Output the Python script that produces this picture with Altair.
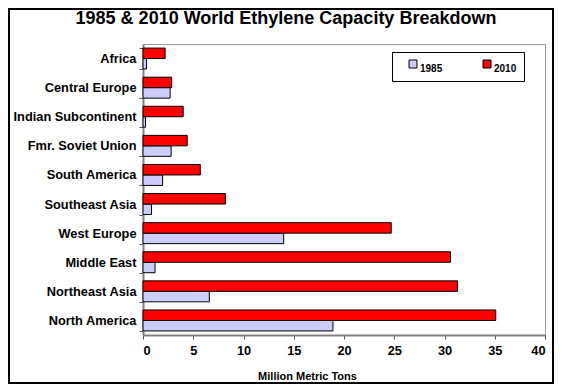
import altair as alt
import pandas as pd

regions = ["Africa", "Central Europe", "Indian Subcontinent", "Fmr. Soviet Union",
           "South America", "Southeast Asia", "West Europe", "Middle East",
           "Northeast Asia", "North America"]
v1985 = [0.35, 2.7, 0.25, 2.8, 1.95, 0.85, 14.0, 1.2, 6.6, 18.9]
v2010 = [2.2, 2.85, 4.0, 4.4, 5.7, 8.2, 24.7, 30.6, 31.3, 35.1]
years = ["1985", "2010"]
colors = ["#CCCCFF", "#FF0000"]
x_ticks = [0, 5, 10, 15, 20, 25, 30, 35, 40]

rows = []
for r, a, b in zip(regions, v1985, v2010):
    rows.append({"region": r, "year": "1985", "value": a})
    rows.append({"region": r, "year": "2010", "value": b})
df = pd.DataFrame(rows)

FONT = "Arial, Liberation Sans, sans-serif"

bars = alt.Chart(df).mark_bar(stroke="black", strokeWidth=1).encode(
    x=alt.X("value:Q",
            scale=alt.Scale(domain=[0, 40], nice=False),
            axis=alt.Axis(values=x_ticks, title="Million Metric Tons", grid=False,
                          labelFont=FONT, labelFontSize=12.8, labelFontWeight="bold",
                          labelColor="black", labelPadding=5,
                          tickSize=4, tickColor="#555555",
                          domainColor="#808080", domainWidth=2,
                          titleFont=FONT, titleFontSize=11, titleFontWeight="bold",
                          titleColor="black", titleX=164, titleY=35,
                          titleAlign="center", titleBaseline="top")),
    y=alt.Y("region:N", sort=regions,
            scale=alt.Scale(paddingInner=0.28, paddingOuter=0.14),
            axis=alt.Axis(title=None, labelFont=FONT, labelFontSize=12.8,
                          labelFontWeight="bold", labelColor="black",
                          labelPadding=3, tickSize=4, tickBand="extent",
                          tickColor="#555555", domainColor="#808080",
                          domainWidth=2)),
    yOffset=alt.YOffset("year:N", sort=["2010", "1985"],
                        scale=alt.Scale(paddingInner=0, paddingOuter=0)),
    fill=alt.Fill("year:N", scale=alt.Scale(domain=years, range=colors),
                  legend=alt.Legend(title=None, orient="none", legendX=249,
                                    legendY=8, direction="horizontal",
                                    symbolType="square", symbolSize=64,
                                    symbolStrokeColor="black", symbolStrokeWidth=1,
                                    symbolOffset=9,
                                    fillColor="white", strokeColor="black",
                                    padding=7, columnPadding=30,
                                    labelFont=FONT, labelFontSize=10,
                                    labelFontWeight="bold", labelColor="black",
                                    labelBaseline="top", labelOffset=2)),
)

frame = alt.Chart(pd.DataFrame({"k": [0]})).mark_rect(
    fill=None, stroke="black", strokeWidth=2
).encode(
    x=alt.value(-134), x2=alt.value(410),
    y=alt.value(-35), y2=alt.value(339),
)

chart = alt.layer(bars, frame).properties(
    width=402, height=291,
    autosize=alt.AutoSizeParams(type="none"),
    padding={"left": 135, "top": 36, "right": 9, "bottom": 49},
    title=alt.Title("1985 & 2010 World Ethylene Capacity Breakdown",
                    font=FONT, fontSize=18, fontWeight="bold", color="black",
                    anchor="middle", frame="bounds", offset=-20, dx=5),
).configure_view(stroke="#999999", strokeWidth=1)

chart.save("out.html", embed_options={"renderer": "svg", "actions": False})
